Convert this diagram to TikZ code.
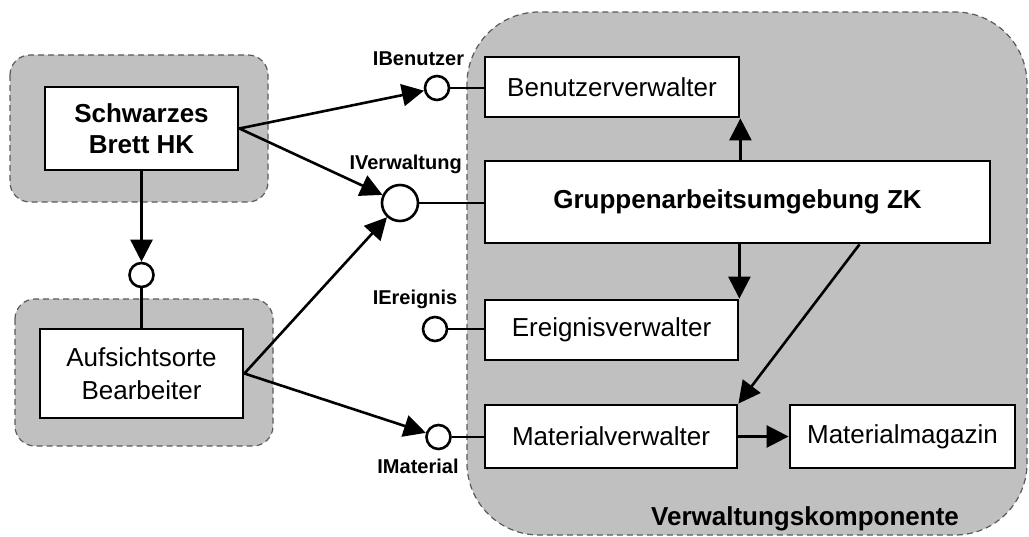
\documentclass[tikz,border=0pt]{standalone}
\usepackage{fontspec}
\setmainfont{Liberation Sans}
\usetikzlibrary{arrows.meta,calc}
\definecolor{pkgfill}{RGB}{192,192,192}
\definecolor{pkgline}{RGB}{90,90,90}

\begin{document}
\begin{tikzpicture}[x=1pt,y=-1pt,
  pkg/.style={fill=pkgfill,draw=pkgline,line width=1.2pt,dash pattern=on 6pt off 4pt},
  comp/.style={draw,fill=white,line width=2.8pt,inner sep=0pt,
    font=\fontsize{26}{32}\selectfont,align=center},
  iface/.style={circle,draw,fill=white,line width=2.6pt,inner sep=0pt,minimum size=24pt},
  lbl/.style={font=\fontsize{20}{24}\selectfont\bfseries,inner sep=0pt},
  conn/.style={line width=2.6pt},
  dep/.style={conn,-{Triangle[length=22pt,width=22pt]}},
]
\useasboundingbox (0,0) rectangle (1029,537);

% packages
\draw[pkg,rounded corners=20pt] (10,55) rectangle (268,202);
\draw[pkg,rounded corners=20pt] (15,299) rectangle (273,446);
\draw[pkg,rounded corners=72pt] (467,12) rectangle (1027,535);

% components
\node[comp,font=\fontsize{26}{31}\selectfont\bfseries,minimum width=193pt,minimum height=83pt]
  (sb) at (141.5,128.5) {Schwarzes\\Brett HK};
\node[comp,font=\fontsize{26}{33}\selectfont,minimum width=203pt,minimum height=89pt]
  (ab) at (141.5,373.5) {Aufsichtsorte\\Bearbeiter};
\node[comp,minimum width=254pt,minimum height=60pt] (bv) at (612,87) {Benutzerverwalter};
\node[comp,font=\fontsize{26}{31}\selectfont\bfseries,minimum width=505pt,minimum height=82pt]
  (gz) at (737.5,202) {Gruppenarbeitsumgebung ZK};
\node[comp,minimum width=253pt,minimum height=60pt] (ev) at (611.5,330) {Ereignisverwalter};
\node[comp,minimum width=252pt,minimum height=63pt] (mv) at (611,436.5) {Materialverwalter};
\node[comp,minimum width=225pt,minimum height=63pt] (mm) at (902.5,436.5) {Materialmagazin};

% interfaces
\node[iface] (ci) at (141.5,275) {};
\node[iface] (ib) at (437,88) {};
\node[iface,minimum size=36pt] (iv) at (400,203) {};
\node[iface] (ie) at (435,329) {};
\node[iface] (im) at (438.5,437) {};

% labels
\node[lbl,anchor=base] (lib) at (418.5,66) {IBenutzer};
\node[lbl,anchor=base east] (liv) at (462,170) {IVerwaltung};
\node[lbl,anchor=base] (lie) at (415,305) {IEreignis};
\node[lbl,anchor=base] (lim) at (418,474) {IMaterial};
\node[lbl,font=\fontsize{26}{31}\selectfont\bfseries,anchor=base] (lvk) at (805,525)
  {Verwaltungskomponente};

% connectors
\draw[dep] (sb.south) -- (ci);
\draw[conn] (ci) -- (ab.north);
\draw[dep] (sb.east) -- (ib);
\draw[dep] (sb.east) -- (iv);
\draw[dep] (ab.east) -- (iv);
\draw[dep] (ab.east) -- (im);
\draw[conn] (ib) -- (ib -| bv.west);
\draw[conn] (iv) -- (iv -| gz.west);
\draw[conn] (ie) -- (ie -| ev.west);
\draw[conn] (im) -- (im -| mv.west);
\draw[dep] (gz.north -| bv.south east) -- (bv.south east);
\draw[dep] (gz.south -| ev.north east) -- (ev.north east);
\draw[dep] ([xshift=122pt]gz.south) -- (mv.north east);
\draw[dep] (mv.east) -- (mm.west);
\end{tikzpicture}
\end{document}
